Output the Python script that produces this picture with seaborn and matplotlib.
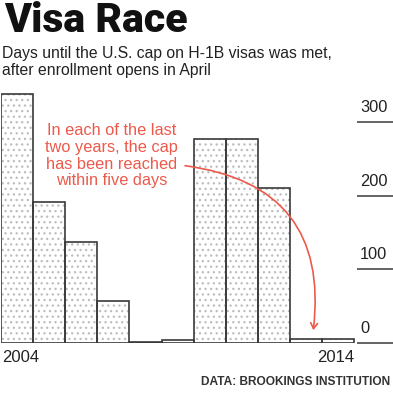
import matplotlib
matplotlib.use("Agg")
import matplotlib.pyplot as plt
import seaborn as sns
import pandas as pd
from matplotlib.patches import FancyArrowPatch

years = [str(y) for y in range(2004, 2015)]
days = [338, 191, 137, 56, 1, 3, 277, 277, 210, 5, 5]
yticks = [0, 100, 200, 300]
edge_labels = ["2004", "2014"]
note = "In each of the last\ntwo years, the cap\nhas been reached\nwithin five days"
title = "Visa Race"
subtitle = "Days until the U.S. cap on H-1B visas was met,\nafter enrollment opens in April"
source = "DATA: BROOKINGS INSTITUTION"

sns.set_style("white")
plt.rcParams["font.family"] = ["Liberation Sans", "DejaVu Sans"]
plt.rcParams["hatch.linewidth"] = 0.9

df = pd.DataFrame({"year": years, "days": days})

W, H = 393, 412
fig = plt.figure(figsize=(W / 100, H / 100), dpi=100)
unit = 32.1
x0 = 1
ax_w = W - x0
xmax = ax_w / unit - 0.5
base = 342.5
ppu = 0.735
ytop = 350
ax = fig.add_axes([x0 / W, (H - base) / H, ax_w / W, ytop * ppu / H])

# stipple layer
sns.barplot(data=df, x="year", y="days", ax=ax, color="white", width=1.0,
            edgecolor="#bdbdbd", linewidth=0, hatch="...")
# outline layer
sns.barplot(data=df, x="year", y="days", ax=ax, fill=False, width=1.0,
            edgecolor="#3a3a3a", linewidth=1.2, color="#3a3a3a")

ax.set_xlim(-0.5, xmax)
ax.set_ylim(0, ytop)
ax.axis("off")

# right-side tick lines and labels
tick_start = (357 - x0) / unit - 0.5
ax.hlines(yticks, tick_start, xmax, color="#3a3a3a", linewidth=1.1, clip_on=False)
for t in yticks:
    ax.text((360 - x0) / unit - 0.5, t + 9, str(t), fontsize=11.8, color="#222222",
            ha="left", va="bottom")

# annotation
red = "#ec5a4c"
ax.text(2.95, 298, note, color=red, fontsize=11.8, ha="center", va="top",
        linespacing=1.13)
arr = FancyArrowPatch((5.15, 241), (9.22, 13), connectionstyle="arc3,rad=-0.5",
                      arrowstyle="->,head_length=4,head_width=2.5", color=red,
                      linewidth=1.2)
ax.add_patch(arr)

# texts
fig.text(2 / W, 1 - 357 / H, edge_labels[0], fontsize=12, ha="left", va="center", color="#222222")
fig.text(354 / W, 1 - 357 / H, edge_labels[1], fontsize=12, ha="right", va="center", color="#222222")
fig.text(4 / W, 1 - 21 / H, title, fontsize=29.5, fontweight=900, ha="left", va="center",
         color="#111111", family=["Roboto", "Liberation Sans", "DejaVu Sans"])
fig.text(2 / W, 1 - 62 / H, subtitle, fontsize=11.3, ha="left", va="center", color="#222222",
         linespacing=1.15)
fig.text(390 / W, 1 - 382 / H, source, fontsize=8.6, fontweight="bold", ha="right", va="center",
         color="#333333")

fig.savefig("out.png", dpi=100)
